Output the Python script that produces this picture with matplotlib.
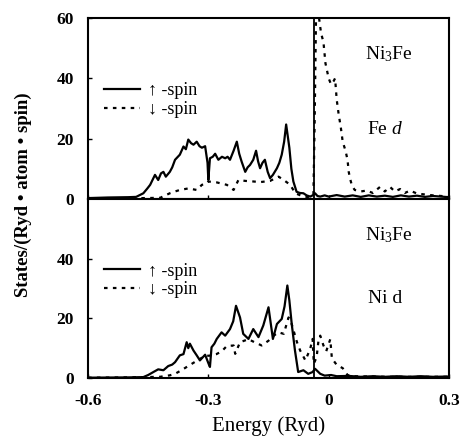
import matplotlib
matplotlib.use('Agg')
import matplotlib.pyplot as plt
import numpy as np

plt.rcParams['font.family'] = ['Liberation Serif', 'DejaVu Serif']
plt.rcParams['mathtext.fontset'] = 'custom'
plt.rcParams['mathtext.rm'] = 'Liberation Serif'
plt.rcParams['mathtext.it'] = 'Liberation Serif:italic'

# Fe d, spin up / spin down  (energy [Ryd], states)
fe_up = [(-0.6, 0.3), (-0.55, 0.5), (-0.5, 0.6), (-0.48, 0.7), (-0.462, 1.9), (-0.452, 3.5),
         (-0.445, 4.7), (-0.433, 8.0), (-0.425, 6.3), (-0.418, 8.5), (-0.412, 9.0), (-0.406, 7.4),
         (-0.396, 9.0), (-0.39, 10.5), (-0.383, 13.0), (-0.371, 14.7), (-0.362, 17.4), (-0.356, 16.5),
         (-0.35, 19.7), (-0.343, 18.5), (-0.337, 18.0), (-0.329, 19.0), (-0.322, 17.5), (-0.316, 17.0),
         (-0.308, 17.5), (-0.302, 12.0), (-0.3, 6.3), (-0.296, 13.5), (-0.289, 14.0), (-0.283, 15.0),
         (-0.275, 13.0), (-0.266, 14.0), (-0.258, 13.5), (-0.252, 14.0), (-0.246, 13.0), (-0.237, 16.0),
         (-0.229, 19.0), (-0.223, 15.0), (-0.217, 12.4), (-0.208, 9.0), (-0.202, 10.5), (-0.196, 11.3),
         (-0.188, 13.0), (-0.181, 16.0), (-0.176, 12.5), (-0.171, 10.2), (-0.165, 12.0), (-0.159, 13.0),
         (-0.152, 9.0), (-0.146, 6.9), (-0.139, 8.0), (-0.129, 10.2), (-0.123, 12.0), (-0.117, 14.7),
         (-0.111, 19.0), (-0.106, 24.7), (-0.098, 17.0), (-0.093, 10.0), (-0.088, 5.8), (-0.08, 2.4),
         (-0.072, 2.0), (-0.063, 1.9), (-0.055, 1.2), (-0.046, 0.8), (-0.04, 1.2), (-0.034, 1.9),
         (-0.028, 1.0), (-0.021, 0.8), (-0.01, 1.2), (0.0, 0.8), (0.02, 1.3), (0.04, 0.8),
         (0.06, 1.2), (0.08, 0.7), (0.1, 1.2), (0.12, 0.8), (0.14, 1.1), (0.16, 0.7), (0.18, 1.2),
         (0.2, 0.8), (0.22, 1.1), (0.24, 0.7), (0.26, 1.0), (0.28, 0.8), (0.3, 0.6)]
fe_dn = [(-0.6, 0.1), (-0.5, 0.2), (-0.42, 0.4), (-0.396, 1.9), (-0.383, 2.5), (-0.371, 3.0),
         (-0.35, 3.5), (-0.329, 3.0), (-0.316, 4.7), (-0.305, 5.0), (-0.3, 5.8), (-0.279, 5.5),
         (-0.254, 4.7), (-0.237, 3.0), (-0.225, 6.3), (-0.208, 6.0), (-0.187, 5.8), (-0.171, 5.6),
         (-0.146, 6.0), (-0.125, 7.4), (-0.112, 6.3), (-0.096, 4.7), (-0.083, 1.9), (-0.063, 0.8),
         (-0.045, 0.6), (-0.038, 1.5), (-0.035, 25.0), (-0.031, 66.0), (-0.026, 62.0), (-0.019, 55.0),
         (-0.013, 52.0), (-0.008, 45.0), (0.0, 40.0), (0.006, 38.0), (0.012, 39.0), (0.016, 40.0),
         (0.02, 33.0), (0.025, 28.0), (0.03, 24.0), (0.035, 19.0), (0.042, 16.0), (0.047, 13.0),
         (0.05, 9.0), (0.053, 7.0), (0.058, 4.4), (0.065, 3.0), (0.08, 2.5), (0.095, 2.8),
         (0.11, 2.0), (0.128, 4.0), (0.14, 2.5), (0.153, 4.0), (0.165, 2.5), (0.178, 3.3),
         (0.19, 2.0), (0.203, 2.8), (0.22, 1.8), (0.24, 1.5), (0.26, 1.2), (0.28, 1.0), (0.3, 0.8)]

# Ni d, spin up / spin down
ni_up = [(-0.6, 0.1), (-0.5, 0.2), (-0.462, 0.3), (-0.45, 1.0), (-0.437, 2.0), (-0.425, 2.9),
         (-0.412, 2.6), (-0.4, 4.0), (-0.39, 4.5), (-0.383, 5.3), (-0.371, 7.6), (-0.362, 8.0),
         (-0.354, 12.0), (-0.35, 10.0), (-0.346, 11.5), (-0.337, 9.2), (-0.329, 7.6), (-0.321, 5.9),
         (-0.308, 7.8), (-0.3, 5.0), (-0.296, 3.7), (-0.292, 10.3), (-0.285, 11.5), (-0.279, 13.1),
         (-0.267, 15.3), (-0.258, 14.2), (-0.246, 16.4), (-0.238, 19.0), (-0.231, 24.2), (-0.221, 20.3),
         (-0.213, 14.8), (-0.2, 13.1), (-0.188, 16.4), (-0.175, 13.7), (-0.163, 17.6), (-0.15, 23.7),
         (-0.139, 13.1), (-0.129, 18.1), (-0.117, 19.8), (-0.11, 24.0), (-0.103, 31.0), (-0.098, 26.0),
         (-0.092, 18.0), (-0.084, 9.2), (-0.076, 2.0), (-0.063, 2.6), (-0.051, 1.4), (-0.04, 2.0),
         (-0.034, 3.1), (-0.021, 1.4), (-0.01, 0.8), (0.006, 1.0), (0.02, 0.6), (0.05, 0.7),
         (0.08, 0.4), (0.11, 0.6), (0.14, 0.4), (0.17, 0.6), (0.2, 0.4), (0.23, 0.6), (0.26, 0.4),
         (0.3, 0.5)]
ni_dn = [(-0.6, 0.1), (-0.5, 0.2), (-0.42, 0.4), (-0.396, 0.9), (-0.383, 1.4), (-0.367, 2.6),
         (-0.354, 3.7), (-0.337, 5.1), (-0.321, 6.4), (-0.308, 7.4), (-0.296, 7.5), (-0.28, 8.0),
         (-0.267, 8.9), (-0.254, 10.7), (-0.237, 10.9), (-0.233, 8.1), (-0.221, 12.0), (-0.2, 13.0),
         (-0.185, 12.0), (-0.167, 10.9), (-0.15, 12.5), (-0.137, 14.2), (-0.125, 15.3), (-0.112, 14.8),
         (-0.1, 20.3), (-0.092, 18.0), (-0.079, 12.0), (-0.071, 9.2), (-0.058, 5.9), (-0.046, 9.8),
         (-0.04, 13.1), (-0.037, 4.8), (-0.03, 7.0), (-0.025, 13.0), (-0.021, 14.2), (-0.013, 10.9),
         (-0.006, 9.0), (0.004, 13.0), (0.008, 6.6), (0.02, 4.4), (0.035, 3.3), (0.047, 1.0),
         (0.06, 0.6), (0.1, 0.5), (0.15, 0.4), (0.2, 0.4), (0.25, 0.4), (0.3, 0.4)]

fermi = -0.036
xticks = [-0.6, -0.3, 0, 0.3]
xticklabels = ['-0.6', '-0.3', '0', '0.3']

fig = plt.figure(figsize=(4.62, 4.44), dpi=100)
ax1 = fig.add_axes([88 / 462, 1 - 199 / 444, 361 / 462, 181 / 444])
ax2 = fig.add_axes([88 / 462, 1 - 378 / 444, 361 / 462, 179 / 444], sharex=ax1)

panels = [(ax1, fe_up, fe_dn, [0, 20, 40, 60], r'Fe $\it{d}$', 23),
          (ax2, ni_up, ni_dn, [0, 20, 40], 'Ni d', 26.5)]
for ax, up, dn, yt, name, name_y in panels:
    e, v = np.array(up).T
    ax.plot(e, v, color='black', lw=1.6, label='\u2191 -spin')
    e, v = np.array(dn).T
    ax.plot(e, v, color='black', lw=1.6, linestyle=(0, (1.6, 2.4)), label='\u2193 -spin')
    ax.axvline(fermi, color='black', lw=1.3)
    ax.set_xlim(-0.6, 0.3)
    ax.set_ylim(0, 60)
    ax.set_yticks(yt)
    ax.set_yticklabels([str(t) for t in yt], fontweight='bold', fontsize=12.5)
    ax.tick_params(direction='in', length=3, width=1, pad=10)
    for s in ax.spines.values():
        s.set_linewidth(1.5)
    ax.text(0.15, 48, r'Ni$_\mathrm{3}$Fe', fontsize=14, ha='center', va='center')
    ax.text(0.14, name_y, name, fontsize=14, ha='center', va='center')
    ax.legend(loc='upper left', bbox_to_anchor=(0.025, 0.685), frameon=False,
              fontsize=13, handlelength=2.0, handletextpad=0.4, labelspacing=0.1,
              borderaxespad=0)

ax1.tick_params(labelbottom=False)
ax2.set_xticks(xticks)
ax2.set_xticklabels(xticklabels, fontweight='bold', fontsize=12.5)
ax2.tick_params(axis='x', pad=11)
ax2.set_xlabel('Energy (Ryd)', fontsize=15, labelpad=5)
fig.text(23 / 462, 1 - 195 / 444, 'States/(Ryd \u2022 atom \u2022 spin)', rotation=90,
         ha='center', va='center', fontsize=13.5, fontweight='bold')

fig.savefig('out.png', dpi=100)
